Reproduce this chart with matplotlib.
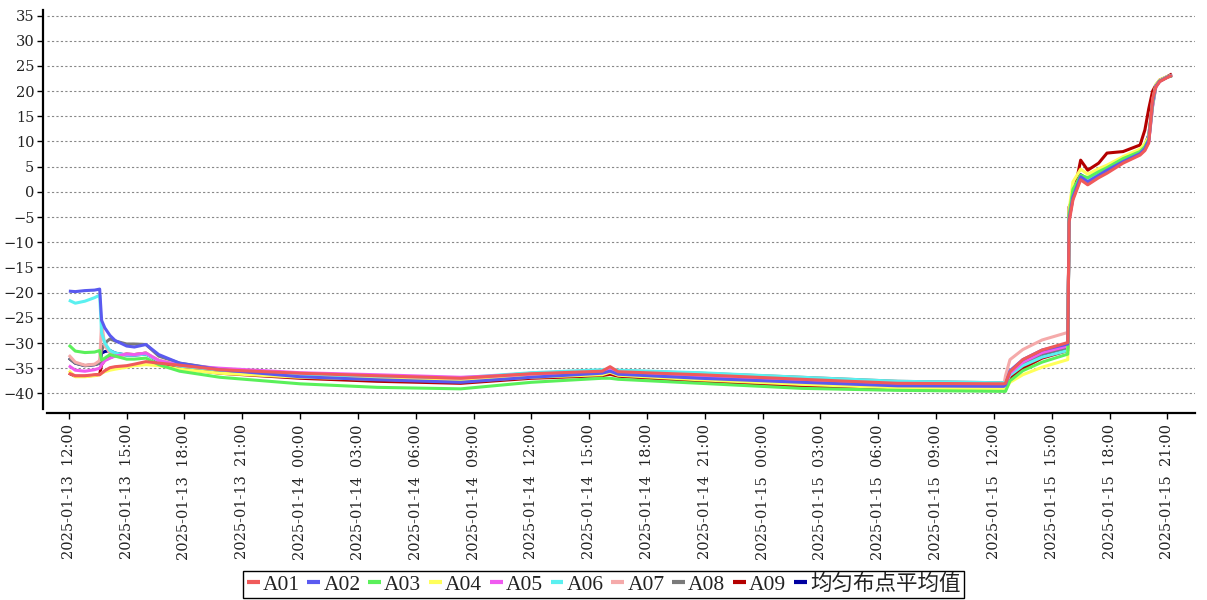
import matplotlib
matplotlib.use("Agg")
import matplotlib.pyplot as plt
import matplotlib.dates as mdates
import pandas as pd

times = [
    "2025-01-13 12:00", "2025-01-13 12:20", "2025-01-13 12:50", "2025-01-13 13:20",
    "2025-01-13 13:36", "2025-01-13 13:42", "2025-01-13 13:52", "2025-01-13 14:08",
    "2025-01-13 14:24", "2025-01-13 15:00", "2025-01-13 15:24", "2025-01-13 16:00",
    "2025-01-13 16:40", "2025-01-13 17:45", "2025-01-13 19:50", "2025-01-14 00:00",
    "2025-01-14 04:00", "2025-01-14 08:20", "2025-01-14 12:00", "2025-01-14 15:40",
    "2025-01-14 16:05", "2025-01-14 16:30", "2025-01-14 20:45", "2025-01-15 02:00",
    "2025-01-15 07:00", "2025-01-15 12:30", "2025-01-15 12:36", "2025-01-15 12:50",
    "2025-01-15 13:30", "2025-01-15 14:30", "2025-01-15 15:50", "2025-01-15 15:54",
    "2025-01-15 16:06", "2025-01-15 16:30", "2025-01-15 16:52", "2025-01-15 17:26",
    "2025-01-15 17:52", "2025-01-15 18:42", "2025-01-15 19:35", "2025-01-15 19:50",
    "2025-01-15 20:02", "2025-01-15 20:14", "2025-01-15 20:24", "2025-01-15 20:36",
    "2025-01-15 21:00", "2025-01-15 21:14",
]

A01 = [-36.0, -36.5, -36.5, -36.3, -36.3, -36.0, -35.5, -34.9, -34.7, -34.5, -34.2, -33.7,
       -34.0, -34.4, -35.3, -36.0, -36.5, -37.0, -36.1, -35.6, -34.7, -35.7, -36.3, -37.2,
       -38.0, -38.1, -38.0, -35.7, -33.3, -31.4, -29.9, -6.0, -1.6, 2.4, 1.4, 2.8,
       3.7, 5.7, 7.3, 8.2, 9.7, 18.5, 20.8, 21.9, 22.7, 23.1]
A02 = [-19.7, -19.8, -19.6, -19.5, -19.3, -25.5, -27.0, -28.5, -29.5, -30.6, -30.8, -30.3,
       -32.3, -34.0, -35.3, -36.7, -37.3, -37.8, -36.8, -36.0, -35.6, -36.2, -37.0, -37.8,
       -38.5, -38.6, -38.3, -35.5, -33.3, -31.4, -30.2, -5.5, -1.0, 3.0, 2.0, 3.3,
       4.3, 6.0, 7.6, 8.6, 10.3, 18.0, 21.0, 22.0, 22.8, 23.1]
A03 = [-30.4, -31.6, -31.9, -31.8, -31.5, -33.4, -33.0, -32.3, -32.6, -33.2, -33.2, -33.0,
       -34.3, -35.6, -36.8, -38.1, -38.8, -39.1, -37.8, -37.0, -37.0, -37.2, -38.0, -39.0,
       -39.4, -39.6, -39.6, -37.5, -35.5, -33.8, -32.2, -4.5, 0.5, 3.3, 2.8, 4.0,
       4.8, 6.6, 8.0, 9.0, 10.5, 17.5, 21.0, 22.0, 22.8, 23.0]
A04 = [-35.5, -36.7, -36.7, -36.5, -36.3, -36.0, -35.7, -35.4, -35.2, -34.8, -34.5, -34.3,
       -34.5, -35.2, -36.0, -36.8, -37.2, -37.6, -36.8, -36.3, -35.8, -36.4, -37.3, -38.2,
       -38.9, -39.2, -39.2, -37.8, -36.3, -34.8, -33.3, -3.5, 2.0, 4.5, 3.5, 4.6,
       5.3, 7.0, 8.5, 9.6, 11.0, 18.0, 21.3, 22.2, 22.9, 23.1]
A05 = [-34.5, -35.4, -35.6, -35.3, -35.0, -34.3, -33.5, -33.0, -32.6, -32.2, -32.3, -32.0,
       -33.5, -34.4, -35.0, -35.9, -36.3, -36.8, -36.2, -35.8, -35.4, -35.9, -36.6, -37.4,
       -38.2, -38.4, -38.4, -36.0, -33.8, -31.9, -30.6, -5.5, -1.3, 2.8, 1.5, 3.0,
       3.9, 5.9, 7.5, 8.4, 10.0, 17.0, 20.8, 21.9, 22.8, 23.1]
A06 = [-21.5, -22.1, -21.7, -21.0, -20.5, -28.0, -30.0, -31.5, -32.0, -32.4, -32.4, -32.2,
       -33.6, -34.6, -35.4, -36.3, -36.6, -36.9, -35.9, -35.3, -35.2, -35.4, -35.9, -36.8,
       -37.6, -37.9, -37.9, -36.4, -34.5, -32.8, -31.5, -5.0, 0.0, 3.2, 2.3, 3.6,
       4.5, 6.3, 7.8, 8.8, 10.3, 17.3, 21.0, 22.0, 22.8, 23.1]
A07 = [-32.4, -33.8, -34.4, -34.2, -33.5, -26.0, -30.5, -32.0, -32.6, -32.3, -32.3, -32.0,
       -33.4, -34.3, -35.2, -36.2, -36.8, -37.2, -36.5, -36.0, -35.6, -36.1, -36.8, -37.7,
       -38.4, -38.7, -36.5, -33.3, -31.3, -29.4, -27.9, -5.5, -1.2, 2.6, 1.7, 3.1,
       4.0, 6.0, 7.5, 8.4, 10.0, 17.0, 20.8, 21.9, 22.8, 23.1]
A08 = [-33.0, -34.0, -34.5, -34.3, -34.0, -31.5, -30.0, -29.2, -29.6, -30.2, -30.2, -30.3,
       -32.6, -34.0, -35.2, -36.2, -36.6, -37.0, -36.0, -35.5, -35.3, -35.5, -36.0, -36.8,
       -37.6, -37.9, -37.9, -36.0, -34.0, -32.2, -30.9, -5.0, -0.5, 3.0, 2.5, 3.5,
       4.3, 6.1, 7.6, 8.6, 10.2, 17.2, 21.0, 22.0, 22.8, 23.1]
A09 = [-36.0, -36.6, -36.6, -36.4, -36.2, -34.3, -33.4, -32.9, -32.5, -32.2, -32.3, -32.0,
       -33.8, -35.0, -36.0, -37.0, -37.6, -38.0, -37.0, -36.5, -36.2, -36.6, -37.6, -38.7,
       -39.2, -39.3, -39.3, -37.0, -35.0, -33.0, -31.5, -3.0, -1.3, 6.3, 4.3, 5.7,
       7.7, 8.0, 9.3, 12.3, 16.5, 20.0, 21.2, 22.2, 22.9, 23.4]
AVG = [-33.0, -34.0, -34.5, -34.3, -34.0, -32.0, -31.7, -31.5, -32.0, -32.4, -32.4, -32.2,
       -33.5, -34.6, -35.6, -36.5, -37.0, -37.4, -36.6, -36.0, -35.7, -36.1, -36.9, -37.7,
       -38.4, -38.6, -38.4, -36.2, -34.1, -32.3, -31.0, -5.0, -0.8, 3.4, 2.5, 3.6,
       4.6, 6.4, 7.9, 9.3, 11.3, 17.5, 21.0, 22.0, 22.8, 23.2]

names = ["A01", "A02", "A03", "A04", "A05", "A06", "A07", "A08", "A09", "均匀布点平均值"]
series = [A01, A02, A03, A04, A05, A06, A07, A08, A09, AVG]
colors = ["#f05a5a", "#5a5af0", "#5af05a", "#ffff5a", "#f05af0", "#5af0f0",
          "#f5aaaa", "#7a7a7a", "#b40000", "#0000a0"]

plt.rcParams["font.family"] = ["DejaVu Serif"]

x = pd.to_datetime(times)

W, H = 1207, 600
fig = plt.figure(figsize=(W / 100, H / 100), dpi=100)
ax = fig.add_axes([47 / W, 1 - 409 / H, (1195 - 47) / W, (409 - 10) / H])

n = len(series)
for i, (name, vals, c) in enumerate(zip(names, series, colors)):
    ax.plot(x, vals, color=c, lw=2.2, label=name, zorder=10 + (n - i),
            solid_joinstyle="round", solid_capstyle="butt")

ax.set_xlim(pd.Timestamp("2025-01-13 10:52"), pd.Timestamp("2025-01-15 22:26"))
ax.set_ylim(-43.1, 36.1)
ax.set_yticks(range(-40, 36, 5))

ax.xaxis.set_major_locator(mdates.HourLocator(byhour=[0, 3, 6, 9, 12, 15, 18, 21]))
ax.xaxis.set_major_formatter(mdates.DateFormatter("%Y-%m-%d  %H:%M"))

ax.tick_params(axis="both", direction="out", length=4, width=1, colors="black",
               labelsize=10.5, labelcolor="#222222")
ax.tick_params(axis="x", pad=4, labelrotation=90)
ax.tick_params(axis="y", pad=2)

ax.grid(axis="y", color="#888888", linestyle=(0, (2, 2)), linewidth=0.8, zorder=0)
ax.grid(axis="x", visible=False)
ax.set_axisbelow(True)

for s in ["top", "right"]:
    ax.spines[s].set_visible(False)
for s in ["left", "bottom"]:
    ax.spines[s].set_linewidth(1.6)
    ax.spines[s].set_color("black")
ax.spines["left"].set_position(("outward", 3))
ax.spines["bottom"].set_position(("outward", 3))

leg = fig.legend(
    *ax.get_legend_handles_labels(),
    loc="lower center", bbox_to_anchor=(0.5, 2 / H), ncol=10,
    prop={"family": ["Liberation Serif", "Noto Sans CJK SC"], "size": 15.5},
    frameon=True, fancybox=False, edgecolor="black", framealpha=1,
    handlelength=0.6, handletextpad=0.15, columnspacing=0.35,
    borderpad=0.15, borderaxespad=0.0,
)
leg.get_frame().set_linewidth(1.0)
for line in leg.get_lines():
    line.set_linewidth(3)
for t in leg.get_texts():
    t.set_color("#222222")

fig.savefig("out.png", dpi=100)
